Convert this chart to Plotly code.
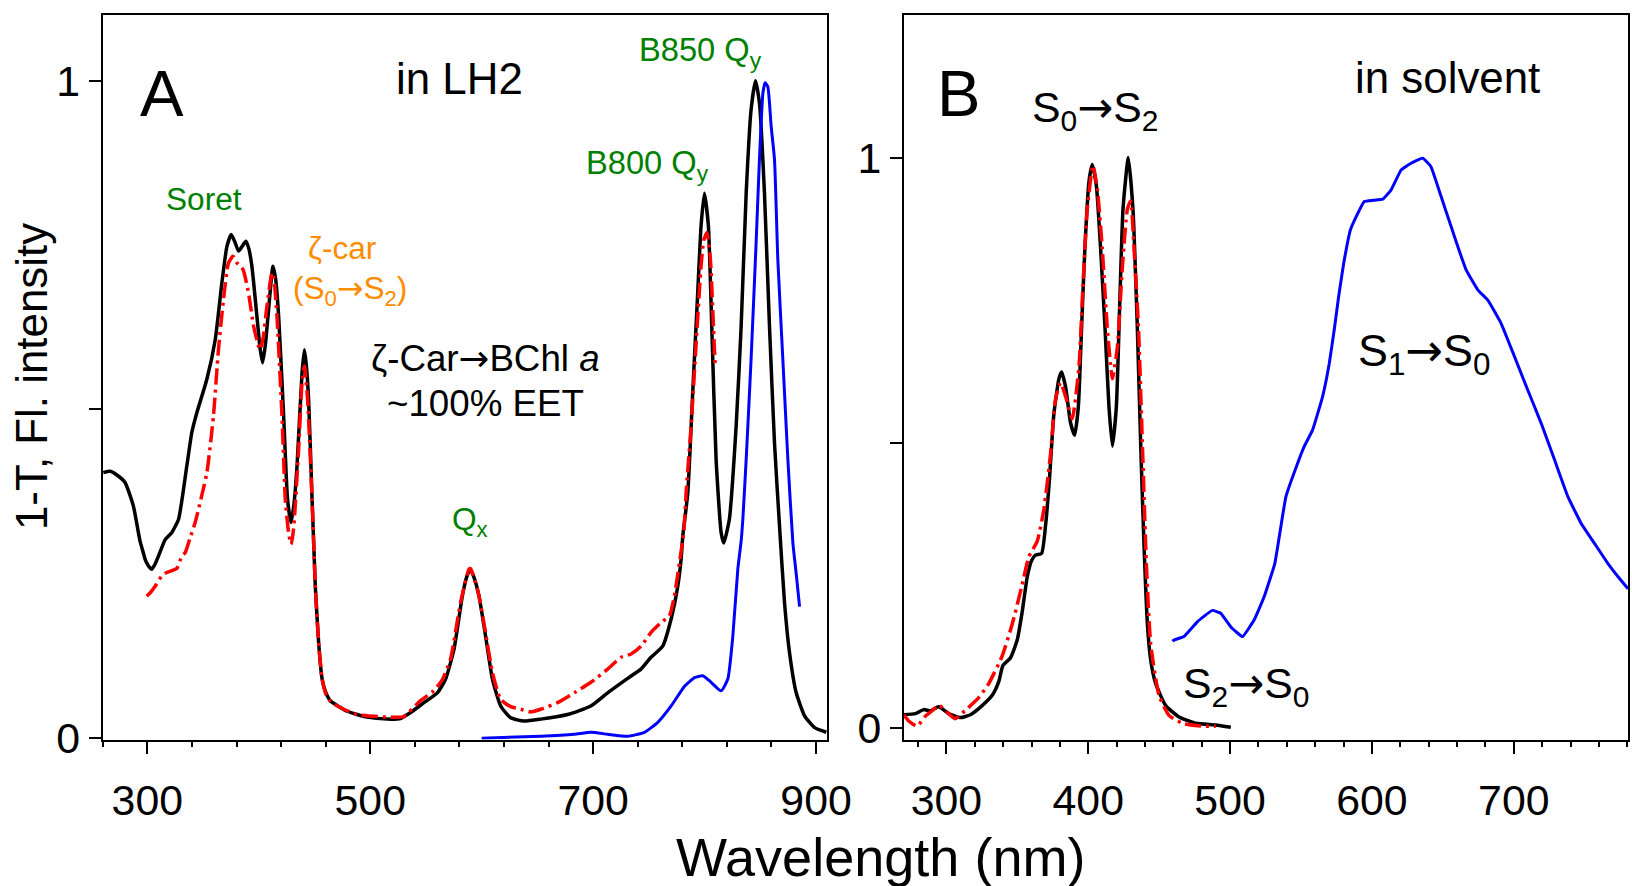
import plotly.graph_objects as go

# ---------------- Panel A (in LH2) ----------------
a_black_nm = [260.5, 266.6, 273, 280, 287.5, 293.4, 296.4, 298, 301, 304, 307, 310, 316, 322, 328,
              335.4, 339.9, 344.4, 353.4, 360.9, 366.9, 371.4, 375.2, 378.5, 381.8, 385, 388.4, 391,
              393.8, 398.3, 401, 403.4, 406, 408.8, 412.7, 415, 417.8, 422.3, 425.8, 428.9, 431.5,
              434.3, 438.8, 440.9, 442.5, 444.7, 447.8, 449.8, 450.7, 453.7, 456.8, 460, 464.2,
              479.2, 497.2, 515.2, 527.2, 536.2, 548.2, 560.2, 567.6, 575.1, 582.6, 586.5, 589.7,
              593, 597.6, 603.5, 609.6, 617, 626, 638, 653, 677, 697.9, 713, 731, 742.9, 751.9,
              762.4, 769.9, 775.9, 778.9, 780.4, 784.9, 789.3, 793.8, 796.8, 799.8, 803.4, 806.4,
              810.3, 814.8, 817.2, 822.2, 828.3, 832.8, 837.3, 841.7, 845.6, 849.2, 853.7, 858.2,
              862.7, 867.2, 871.7, 876.2, 882.2, 889.7, 898.7, 909.2]
a_black_v = [0.404, 0.406, 0.400, 0.389, 0.353, 0.300, 0.282, 0.272, 0.262, 0.257, 0.265, 0.277, 0.302,
             0.313, 0.333, 0.414, 0.465, 0.495, 0.546, 0.606, 0.693, 0.748, 0.766, 0.755, 0.741, 0.748,
             0.756, 0.745, 0.718, 0.642, 0.595, 0.571, 0.600, 0.652, 0.718, 0.700, 0.642, 0.490, 0.363,
             0.328, 0.355, 0.414, 0.556, 0.591, 0.570, 0.515, 0.363, 0.272, 0.231, 0.145, 0.090, 0.070,
             0.057, 0.041, 0.032, 0.029, 0.030, 0.039, 0.054, 0.069, 0.090, 0.135, 0.216, 0.245, 0.257,
             0.245, 0.216, 0.155, 0.090, 0.049, 0.031, 0.026, 0.029, 0.036, 0.049, 0.069, 0.091, 0.105,
             0.123, 0.140, 0.181, 0.231, 0.272, 0.307, 0.373, 0.525, 0.677, 0.779, 0.829, 0.779, 0.627,
             0.424, 0.313, 0.297, 0.333, 0.475, 0.627, 0.829, 0.956, 1.0, 0.966, 0.829, 0.627, 0.449,
             0.323, 0.206, 0.130, 0.069, 0.034, 0.016, 0.009]

a_red_nm = [299.5, 303, 307, 313, 317.4, 326.4, 330.9, 333.9, 338.4, 342.9, 353.4, 359.3, 363.8, 368.3,
            372.8, 376.8, 380.4, 385.8, 390.8, 395.3, 399.8, 401.3, 404, 407.3, 411.8, 413.5, 416.3,
            420.8, 423.8, 426.7, 428.9, 431.2, 435.7, 438.8, 440.9, 443.8, 447.8, 449.8, 450.7, 453.7,
            456.8, 460, 464.2, 476.2, 488.2, 515, 530, 545, 557, 565, 572, 581, 588.6, 590, 593, 597.6,
            603.5, 609.6, 617, 626, 635, 644, 653, 668, 683, 698, 713, 725, 734, 743, 752, 761, 768.4,
            772.9, 777.4, 781.3, 783.4, 787.9, 792.4, 796.8, 799.3, 802.2, 805.2, 807.3, 809.4]
a_red_v = [0.216, 0.222, 0.231, 0.247, 0.252, 0.258, 0.277, 0.282, 0.305, 0.328, 0.404, 0.490, 0.591,
           0.667, 0.723, 0.733, 0.723, 0.713, 0.677, 0.627, 0.596, 0.591, 0.610, 0.657, 0.708, 0.700,
           0.642, 0.490, 0.363, 0.313, 0.295, 0.318, 0.439, 0.541, 0.566, 0.515, 0.363, 0.272, 0.231,
           0.145, 0.090, 0.068, 0.056, 0.044, 0.036, 0.032, 0.033, 0.057, 0.072, 0.090, 0.120, 0.206,
           0.257, 0.258, 0.245, 0.216, 0.160, 0.100, 0.059, 0.048, 0.044, 0.040, 0.044, 0.054, 0.069,
           0.085, 0.105, 0.123, 0.128, 0.140, 0.161, 0.176, 0.186, 0.216, 0.267, 0.313, 0.373, 0.475,
           0.601, 0.718, 0.758, 0.769, 0.728, 0.652, 0.566]

a_blue_nm = [600, 653, 683, 698, 713, 731, 746, 758, 770, 782, 791, 798.3, 805.8, 814.8, 820.8, 825.3,
             829.8, 832.8, 834.3, 837.3, 841.7, 846.2, 849.2, 852.3, 854.3, 856.7, 859.7, 862.7, 865.7,
             870.2, 874.7, 879.2, 882.2, 885.2]
a_blue_v = [0.0, 0.003, 0.006, 0.009, 0.006, 0.003, 0.009, 0.024, 0.049, 0.079, 0.092, 0.095, 0.085,
            0.072, 0.090, 0.155, 0.257, 0.300, 0.333, 0.424, 0.576, 0.753, 0.880, 0.981, 0.997, 0.991,
            0.931, 0.880, 0.728, 0.576, 0.424, 0.297, 0.250, 0.200]

# ---------------- Panel B (in solvent) ----------------
b_black_nm = [270, 278.1, 284, 288.7, 294.6, 301.6, 309.9, 316.9, 325.2, 332.3, 336.9, 339.8, 345.2,
              349.9, 353.4, 357, 360, 362.8, 367.1, 369.9, 372.7, 375.7, 379.3, 381.2, 384, 387.5,
              390.4, 393, 395.3, 397.6, 400.5, 402.8, 405.7, 408.7, 411.8, 414.6, 417, 419.8, 422.1,
              424.5, 428.2, 431.5, 434.6, 437, 439.3, 441.7, 444, 447.5, 454.6, 464, 475.8, 489.9, 500.5]
b_black_v = [0.023, 0.025, 0.032, 0.030, 0.037, 0.025, 0.018, 0.023, 0.039, 0.057, 0.081, 0.109, 0.123,
             0.154, 0.203, 0.265, 0.293, 0.303, 0.306, 0.355, 0.438, 0.549, 0.612, 0.624, 0.598, 0.535,
             0.513, 0.563, 0.702, 0.840, 0.958, 0.988, 0.951, 0.840, 0.702, 0.563, 0.494, 0.563, 0.736,
             0.910, 1.0, 0.910, 0.702, 0.494, 0.320, 0.182, 0.119, 0.078, 0.039, 0.019, 0.008, 0.005, 0.001]

b_red_nm = [270, 273.4, 279.3, 285, 290, 294.6, 301.6, 306, 313, 322.8, 329.9, 339.3, 346.4, 353.4,
            358.1, 364, 368.7, 373.4, 377, 380.5, 384.5, 388.7, 393.4, 396.2, 399.3, 403.3, 406.4,
            409.9, 413.4, 417, 420.5, 424, 427.6, 429.9, 432.3, 435.4, 438.2, 441, 444, 449.9, 456.9,
            466.4, 480.5, 489.9]
b_red_v = [0.023, 0.012, 0.003, 0.020, 0.030, 0.040, 0.025, 0.016, 0.030, 0.053, 0.078, 0.126, 0.182,
           0.251, 0.300, 0.327, 0.383, 0.480, 0.577, 0.605, 0.577, 0.542, 0.632, 0.771, 0.910, 0.986,
           0.945, 0.840, 0.702, 0.612, 0.667, 0.806, 0.910, 0.924, 0.840, 0.702, 0.494, 0.286, 0.147,
           0.057, 0.022, 0.008, 0.003, 0.003]

b_blue_nm = [459.3, 460.4, 467.5, 476.9, 487.5, 493.4, 500.5, 508.7, 516.9, 524, 531.5, 539.3, 547.6,
             552.2, 558.1, 565.2, 569.9, 573.4, 576.5, 580.1, 584.8, 588.8, 594.6, 601, 607.5, 613.4,
             620.5, 627.5, 635.8, 641.6, 648.7, 655.8, 660.5, 666.4, 674.6, 681.7, 691.1, 700.5, 709.9,
             719.3, 728.7, 738.2, 747.6, 757, 766.4, 773.5, 780.5]
b_blue_v = [0.152, 0.154, 0.160, 0.186, 0.206, 0.201, 0.177, 0.160, 0.189, 0.230, 0.288, 0.405, 0.464,
            0.493, 0.522, 0.581, 0.639, 0.698, 0.756, 0.815, 0.873, 0.896, 0.923, 0.925, 0.927, 0.943,
            0.978, 0.990, 0.999, 0.984, 0.932, 0.879, 0.844, 0.803, 0.768, 0.750, 0.709, 0.651, 0.592,
            0.534, 0.470, 0.405, 0.358, 0.323, 0.288, 0.265, 0.244]

a_xticks = [300, 500, 700, 900]
b_xticks = [300, 400, 500, 600, 700]
y_ticks = [0, 0.5, 1]
y_ticktext = ["0", "", "1"]

# target picture coordinates are 1632x886; the captured view is slightly larger, so the
# figure is sized up and all positions are given as fractions of the 1632x886 target
RW, RH = 1632, 886
W, H = 1657, 909
FS = 1.02  # font scale compensating the capture
FONT = "Liberation Sans, Arial, sans-serif"
BLACK, RED, BLUE = "#000000", "#FF0000", "#0000FF"
GREEN, ORANGE = "#008000", "#FF8C00"
DASHDOT = "16px,5px,3px,5px"
ARROW = "<span style='font-family:DejaVu Sans'>→</span>"


def fx(px):
    return px / RW


def fy(py):
    return 1 - py / RH


fig = go.Figure()
sp = dict(shape="spline", smoothing=0.5)
fig.add_trace(go.Scatter(x=a_black_nm, y=a_black_v, mode="lines", line=dict(color=BLACK, width=3.5, **sp),
                         xaxis="x", yaxis="y", showlegend=False))
fig.add_trace(go.Scatter(x=a_red_nm, y=a_red_v, mode="lines", line=dict(color=RED, width=3.5, dash=DASHDOT, **sp),
                         xaxis="x", yaxis="y", showlegend=False))
fig.add_trace(go.Scatter(x=a_blue_nm, y=a_blue_v, mode="lines", line=dict(color=BLUE, width=3, **sp),
                         xaxis="x", yaxis="y", showlegend=False))
fig.add_trace(go.Scatter(x=b_black_nm, y=b_black_v, mode="lines", line=dict(color=BLACK, width=3.5, **sp),
                         xaxis="x2", yaxis="y2", showlegend=False))
fig.add_trace(go.Scatter(x=b_red_nm, y=b_red_v, mode="lines", line=dict(color=RED, width=3.5, dash=DASHDOT, **sp),
                         xaxis="x2", yaxis="y2", showlegend=False))
fig.add_trace(go.Scatter(x=b_blue_nm, y=b_blue_v, mode="lines",
                         line=dict(color=BLUE, width=3, shape="spline", smoothing=0.3),
                         xaxis="x2", yaxis="y2", showlegend=False))

ydom = [fy(739.5), fy(15)]
axis_common = dict(showline=True, mirror=True, linecolor="black", linewidth=2, ticks="outside",
                   tickcolor="black", tickwidth=2, ticklen=12, showgrid=False, zeroline=False,
                   tickfont=dict(family=FONT, size=42 * FS, color="black"))
minor_common = dict(ticks="outside", ticklen=5, tickwidth=2, tickcolor="black")

fig.update_layout(
    width=W, height=H, autosize=False,
    margin=dict(l=0, r=0, t=0, b=0),
    paper_bgcolor="white", plot_bgcolor="white",
    xaxis=dict(domain=[fx(102.7), fx(826.7)], range=[260, 910], tickvals=a_xticks, anchor="y",
               minor=dict(dtick=40, tick0=300, **minor_common), ticklabelstandoff=10, **axis_common),
    yaxis=dict(domain=ydom, range=[-0.002, 1.1], tickvals=y_ticks, ticktext=y_ticktext, anchor="x",
               **axis_common),
    xaxis2=dict(domain=[fx(903.3), fx(1627)], range=[270, 780.5], tickvals=b_xticks, anchor="y2",
                minor=dict(dtick=20, tick0=300, **minor_common), ticklabelstandoff=10, **axis_common),
    yaxis2=dict(domain=ydom, range=[-0.0204, 1.25], tickvals=y_ticks, ticktext=y_ticktext, anchor="x2",
                **axis_common),
)


def ann(text, px, py, size, color="black", angle=0):
    fig.add_annotation(text=text, x=fx(px), y=fy(py), xref="paper", yref="paper",
                       xanchor="center", yanchor="middle", showarrow=False, textangle=angle,
                       font=dict(family=FONT, size=size * FS, color=color))


# panel A labels
ann("A", 162, 94, 64)
ann("in LH2", 459, 78, 43)
ann("B850 Q<sub>y</sub>", 700, 52, 32, GREEN)
ann("B800 Q<sub>y</sub>", 647, 165, 32, GREEN)
ann("Soret", 204, 199, 31, GREEN)
ann("ζ-car", 342, 248, 31, ORANGE)
ann("(S<sub>0</sub>" + ARROW + "S<sub>2</sub>)", 350, 290, 31, ORANGE)
ann("ζ-Car" + ARROW + "BChl <i>a</i>", 485, 358, 36)
ann("~100% EET", 485, 403, 36)
ann("Q<sub>x</sub>", 470, 521, 31, GREEN)
# panel B labels
ann("B", 958, 93, 64)
ann("S<sub>0</sub>" + ARROW + "S<sub>2</sub>", 1094, 109, 42)
ann("in solvent", 1447, 77, 43)
ann("S<sub>1</sub>" + ARROW + "S<sub>0</sub>", 1423, 353, 44)
ann("S<sub>2</sub>" + ARROW + "S<sub>0</sub>", 1245, 685, 42)
# axis titles
ann("1-T, Fl. intensity", 31, 377, 43, angle=-90)
ann("Wavelength (nm)", 880, 857, 53)

fig.write_html("out.html", config={"displayModeBar": False},
               post_script="document.body.style.margin='0';document.body.style.overflow='hidden';")
